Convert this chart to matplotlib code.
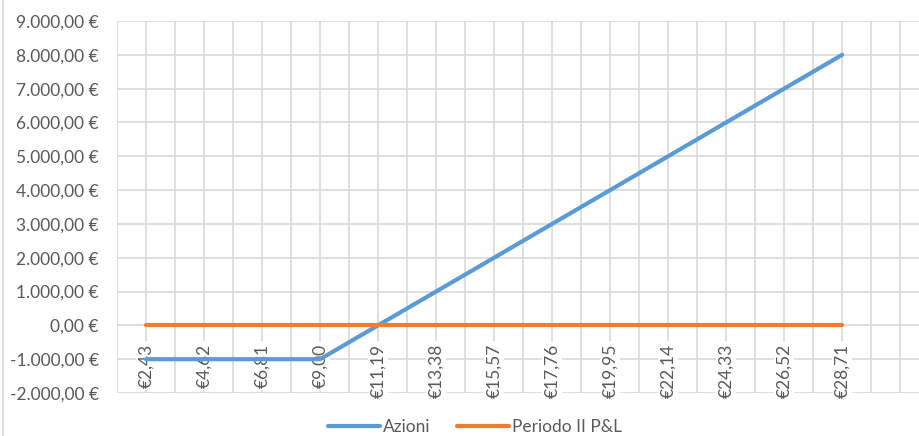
import matplotlib
matplotlib.use('Agg')
import matplotlib.pyplot as plt
from matplotlib.ticker import FuncFormatter, MultipleLocator
from matplotlib.lines import Line2D
import numpy as np

# prezzi del sottostante (una categoria ogni 1,095)
prezzi = [2.43, 3.525, 4.62, 5.715, 6.81, 7.905, 9.00, 10.095, 11.19, 12.285,
          13.38, 14.475, 15.57, 16.665, 17.76, 18.855, 19.95, 21.045, 22.14,
          23.235, 24.33, 25.425, 26.52, 27.615, 28.71]
azioni = [-1000, -1000, -1000, -1000, -1000, -1000, -1000, -500, 0, 500, 1000,
          1500, 2000, 2500, 3000, 3500, 4000, 4500, 5000, 5500, 6000, 6500,
          7000, 7500, 8000]
periodo_pl = [0] * 25

plt.rcParams['font.family'] = ['Lato', 'DejaVu Sans']
testo = '#595959'
griglia = '#d9d9d9'


def euro(v, pos=None):
    s = '{:,.2f}'.format(v).replace(',', 'X').replace('.', ',').replace('X', '.')
    return s + ' €'


def euro_x(v):
    return '€' + '{:.2f}'.format(v).replace('.', ',')


fig = plt.figure(figsize=(9.19, 4.36), dpi=100)
ax = fig.add_axes([0.1273, 0.0986, 0.8727, 0.8532])

for s in ax.spines.values():
    s.set_visible(False)

idx = np.arange(len(prezzi))
ax.plot(idx, azioni, color='#5b9bd5', lw=3, solid_capstyle='round', label='Azioni', zorder=3)
ax.plot(idx, periodo_pl, color='#ed7d31', lw=3, solid_capstyle='round', label='Periodo II P&L', zorder=3)

ax.set_ylim(-2000, 9000)
ax.set_xlim(-1, 26.65)
ax.yaxis.set_major_locator(MultipleLocator(1000))
ax.yaxis.set_major_formatter(FuncFormatter(euro))

# griglia verticale ad ogni categoria
ax.set_xticks(np.arange(-1, 27))
ax.tick_params(axis='x', length=0, labelbottom=False)
ax.tick_params(axis='y', length=0, pad=13, labelsize=12.5, colors=testo)
ax.grid(True, color=griglia, lw=1.2)
ax.set_axisbelow(True)

# etichette ogni due categorie, sotto l'asse che incrocia a 0 (stile Excel)
for i in idx[::2]:
    ax.annotate(euro_x(prezzi[i]), xy=(i, 0), xytext=(0, -13), textcoords='offset points',
                rotation=90, ha='center', va='top', fontsize=12.5, color=testo, zorder=2,
                bbox=dict(facecolor='white', edgecolor='none', pad=1.5))

ax.legend(loc='center', bbox_to_anchor=(0.517, 0.021), bbox_transform=fig.transFigure,
          ncol=2, frameon=False, fontsize=12.5, labelcolor=testo, handlelength=3.0,
          columnspacing=1.5, handletextpad=0.2)

fig.add_artist(Line2D([0.003, 0.003], [0, 1], transform=fig.transFigure, color=griglia, lw=1.2))

fig.savefig('out.png', dpi=100)
